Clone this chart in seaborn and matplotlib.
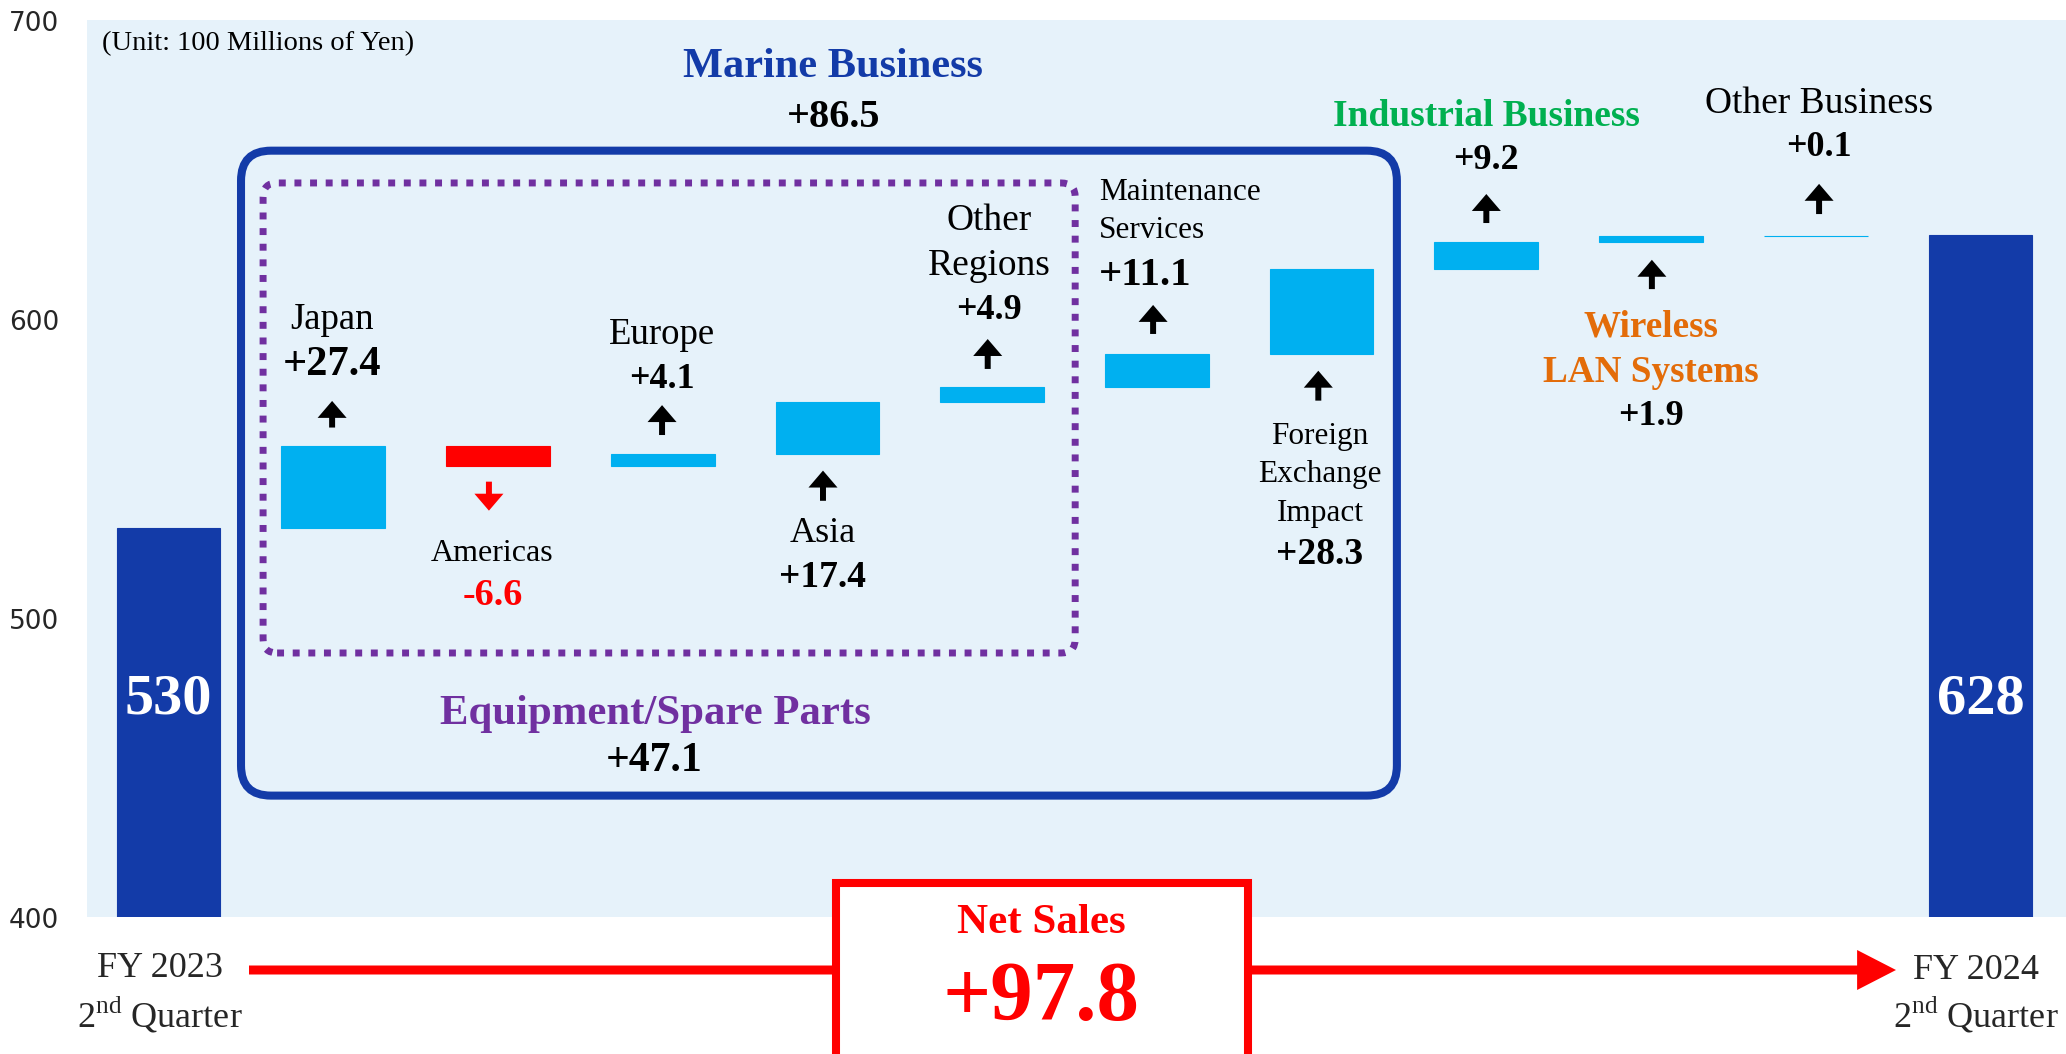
import matplotlib
matplotlib.use("Agg")
import matplotlib.pyplot as plt
from matplotlib.patches import FancyBboxPatch, Rectangle, FancyArrowPatch, ArrowStyle
import numpy as np
import pandas as pd
import seaborn as sns

# ---------------- data ----------------
items = ["FY 2023 2Q", "Japan", "Americas", "Europe", "Asia", "Other Regions",
         "Maintenance Services", "Foreign Exchange Impact", "Industrial Business",
         "Wireless LAN Systems", "Other Business", "FY 2024 2Q"]
start_total = 530.0
end_total = 628.0
changes = [27.4, -6.6, 4.1, 17.4, 4.9, 11.1, 28.3, 9.2, 1.9, 0.1]
change_labels = ["+27.4", "-6.6", "+4.1", "+17.4", "+4.9", "+11.1", "+28.3",
                 "+9.2", "+1.9", "+0.1"]
total_labels = ["530", "628"]
marine_label = "+86.5"
equipment_label = "+47.1"
net_sales_label = "+97.8"
y_ticks = [400, 500, 600, 700]

# ---------------- style ----------------
sns.set_style("white")
plt.rcParams["font.family"] = ["Liberation Serif", "DejaVu Serif"]
plt.rcParams["mathtext.fontset"] = "custom"
plt.rcParams["mathtext.rm"] = "Liberation Serif"

DARK = "#133BA8"
LIGHT = "#00B0F0"
RED = "#FF0000"
BG = "#E6F2FA"
GREEN = "#00B050"
ORANGE = "#E36C09"
PURPLE = "#7030A0"

levels = start_total + np.cumsum(changes)
prev = np.concatenate([[start_total], levels[:-1]])
bottoms = [0.0] + list(np.minimum(prev, levels)) + [0.0]
heights = [start_total] + list(np.abs(changes)) + [end_total]
kinds = ["total"] + ["up" if c >= 0 else "down" for c in changes] + ["total"]
df = pd.DataFrame({"item": items, "height": heights, "bottom": bottoms, "kind": kinds})

W, H = 2067, 1055
fig = plt.figure(figsize=(W / 100 - 1e-4, H / 100 - 1e-4), dpi=100)
ax = fig.add_axes([87 / W, 1 - 918 / H, 1 - 87 / W, (918 - 21) / H])

sns.barplot(data=df, x="item", y="height", bottom=df["bottom"].to_numpy(),
            color=LIGHT, saturation=1, width=0.63, errorbar=None, ax=ax)
cmap = {"total": DARK, "up": LIGHT, "down": RED}
for patch, kind in zip(ax.patches, df["kind"]):
    c = cmap[kind]
    patch.set_facecolor(c)
    patch.set_edgecolor(c)
    patch.set_linewidth(0.8)

ax.set_xlim(-0.495, 11.525)
ax.set_ylim(400, 700)
ax.set_yticks(y_ticks)
ax.set_yticklabels([str(t) for t in y_ticks], fontfamily="DejaVu Sans", fontsize=19)
ax.set_xticks([])
ax.set_xlabel("")
ax.set_ylabel("")
ax.tick_params(axis="y", length=0, pad=20)
ax.set_facecolor(BG)
for s in ax.spines.values():
    s.set_visible(False)

fig.canvas.draw()
p0 = ax.transData.transform((0, 400))
p1 = ax.transData.transform((1, 500))
px_x = p1[0] - p0[0]
px_y = (p1[1] - p0[1]) / 100.0
aspect = px_x / px_y

# group frames
r_blue = 30 / px_x
ax.add_patch(FancyBboxPatch((0.440, 440.6), 7.457 - 0.440, 656.3 - 440.6,
                            boxstyle=f"round,pad=0,rounding_size={r_blue}",
                            mutation_aspect=aspect, fill=False, ec=DARK, lw=5.8, zorder=3))
r_purp = 14 / px_x
ax.add_patch(FancyBboxPatch((0.574, 488.3), 5.504 - 0.574, 645.5 - 488.3,
                            boxstyle=f"round,pad=0,rounding_size={r_purp}",
                            mutation_aspect=aspect, fill=False, ec=PURPLE, lw=5,
                            linestyle=(0, (1, 1.25)), capstyle="butt", zorder=3))


def small_arrow(x, y_tail, y_head, color="black"):
    st = ArrowStyle("Simple", head_length=0.61, head_width=1.045, tail_width=0.215)
    ax.add_patch(FancyArrowPatch((x, y_tail), (x, y_head), arrowstyle=st,
                                 mutation_scale=20, color=color, lw=0,
                                 shrinkA=0, shrinkB=0, zorder=4))


WD = 1.2  # vertical correction for word labels


def t(x, y, s, size, color="black", bold=False, ha="center", word=True):
    ax.text(x, y - (WD if word else 0), s, fontsize=size, color=color, ha=ha, va="center",
            fontweight="bold" if bold else "normal", zorder=5)


t(-0.402, 693.8, "(Unit: 100 Millions of Yen)", 20.5, ha="left")
t(4.035, 685.9, "Marine Business", 30.5, DARK, True)
t(4.035, 667.6, marine_label, 29, bold=True, word=False)

# Japan
t(0.993, 601.2, "Japan", 26.5)
t(0.993, 585.0, change_labels[0], 30.5, bold=True, word=False)
small_arrow(0.993, 563.7, 572.6)
# Americas
small_arrow(1.945, 545.6, 535.9, RED)
t(1.962, 523.1, "Americas", 23)
t(1.969, 508.0, change_labels[1], 27.5, RED, True, word=False)
# Europe
t(2.996, 596.1, "Europe", 26.5)
t(2.996, 580.0, change_labels[2], 26, bold=True, word=False)
small_arrow(2.996, 561.2, 571.2)
# Asia
small_arrow(3.973, 539.2, 549.3)
t(3.973, 529.8, "Asia", 26)
t(3.973, 513.8, change_labels[3], 27, bold=True, word=False)
# Other Regions
t(4.98, 634.3, "Other", 27)
t(4.98, 619.3, "Regions", 27)
t(4.98, 603.2, change_labels[4], 26, bold=True, word=False)
small_arrow(4.973, 583.3, 593.3)
# Maintenance Services
t(5.647, 643.8, "Maintenance", 22.5, ha="left")
t(5.647, 631.2, "Services", 22.5, ha="left")
t(5.647, 615.0, change_labels[5], 29.5, bold=True, ha="left", word=False)
small_arrow(5.977, 595.0, 604.7)
# Foreign Exchange Impact
small_arrow(6.98, 572.7, 582.7)
t(6.99, 562.4, "Foreign", 22.5)
t(6.99, 549.6, "Exchange", 22.5)
t(6.99, 536.4, "Impact", 22.5)
t(6.99, 521.6, change_labels[6], 27, bold=True, word=False)
# Industrial Business
t(8.0, 669.1, "Industrial Business", 27, GREEN, True)
t(8.0, 653.2, change_labels[7], 26, bold=True, word=False)
small_arrow(8.0, 632.1, 641.8)
# Wireless LAN Systems
small_arrow(9.005, 610.0, 619.8)
t(9.0, 598.7, "Wireless", 26.7, ORANGE, True)
t(9.0, 583.8, "LAN Systems", 26.7, ORANGE, True)
t(9.0, 567.8, change_labels[8], 26, bold=True, word=False)
# Other Business
t(10.02, 673.6, "Other Business", 27)
t(10.02, 657.8, change_labels[9], 26, bold=True, word=False)
small_arrow(10.02, 635.1, 645.2)
# Totals
t(0, 473.0, total_labels[0], 42, "white", True, word=False)
t(11, 473.0, total_labels[1], 42, "white", True, word=False)
# Equipment / Spare Parts
t(2.954, 469.3, "Equipment/Spare Parts", 30.8, PURPLE, True)
t(2.945, 452.5, equipment_label, 30, bold=True, word=False)

# ---------------- bottom area ----------------
fig.text(159.6 / W, 1 - 969 / H, "FY 2023", fontsize=26, ha="center", va="center")
fig.text(159.6 / W, 1 - 1015 / H, "2$^{\\mathregular{nd}}$ Quarter", fontsize=26,
         ha="center", va="center")
fig.text(1976 / W, 1 - 971 / H, "FY 2024", fontsize=26, ha="center", va="center")
fig.text(1976 / W, 1 - 1015 / H, "2$^{\\mathregular{nd}}$ Quarter", fontsize=26,
         ha="center", va="center")

big = ArrowStyle("Simple", head_length=1.4, head_width=1.44, tail_width=0.324)
fig.add_artist(FancyArrowPatch((249 / W, 1 - 971 / H), (1896 / W, 1 - 971 / H),
                               transform=fig.transFigure, arrowstyle=big,
                               mutation_scale=20, color=RED, lw=0,
                               shrinkA=0, shrinkB=0, zorder=1))
fig.add_artist(Rectangle((836 / W, -0.02), (1248 - 836) / W, (1 - 884 / H) + 0.02,
                         transform=fig.transFigure, facecolor="white",
                         edgecolor=RED, lw=5.8, zorder=2))
fig.text(1041 / W, 1 - 923 / H, "Net Sales", fontsize=31, fontweight="bold",
         color=RED, ha="center", va="center", zorder=3)
fig.text(1041 / W, 1 - 1000 / H, net_sales_label, fontsize=61, fontweight="bold",
         color=RED, ha="center", va="center", zorder=3)

fig.savefig("out.png", dpi=100)
